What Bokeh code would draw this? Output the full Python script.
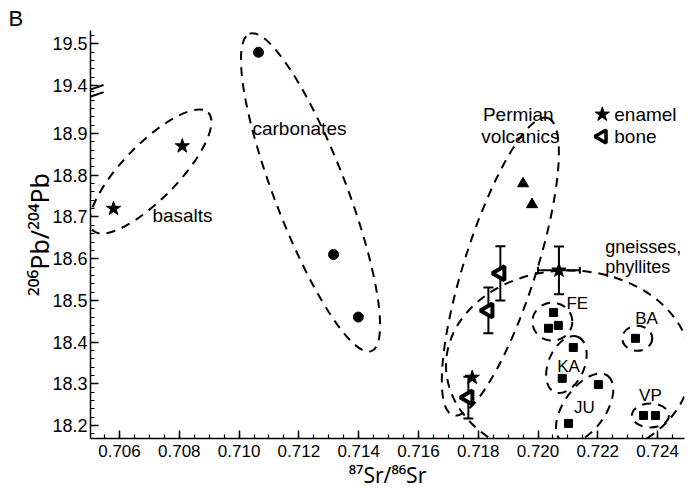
import numpy as np
from bokeh.plotting import figure
from bokeh.models import (ColumnDataSource, FixedTicker, CustomJSTickFormatter,
                          PrintfTickFormatter, Whisker, TeeHead, Label, Arrow, Range1d)
from bokeh.embed import file_html
from bokeh.resources import INLINE

# ---------------- data ----------------
OFF = 0.385      # y values above the axis break are drawn shifted down by OFF
BRK = 19.0

basalt_x = [0.7058, 0.7081]
basalt_y = [18.72, 18.87]
carb_x = [0.71065, 0.71316, 0.71399]
carb_y = [19.48, 18.61, 18.46]
perm_x = [0.7195, 0.7198]
perm_y = [18.78, 18.73]
bone_x = [0.71874, 0.71834, 0.71767]
bone_y = [18.565, 18.476, 18.267]
bone_yerr = [0.065, 0.055, 0.05]
enamel_x = [0.7178, 0.7207]
enamel_y = [18.315, 18.572]
enamel_xerr_x = [0.7207]
enamel_xerr_y = [18.572]
enamel_xerr = [0.0007]
enamel_yerr = [0.057]
gneiss_x = [0.72052, 0.72035, 0.72068, 0.72118, 0.72081, 0.72202, 0.72102,
            0.72326, 0.72353, 0.72393]
gneiss_y = [18.471, 18.433, 18.44, 18.387, 18.313, 18.298, 18.205,
            18.409, 18.224, 18.224]

x_ticks = [0.706, 0.708, 0.710, 0.712, 0.714, 0.716, 0.718, 0.720, 0.722, 0.724]
y_ticks_low = [18.2, 18.3, 18.4, 18.5, 18.6, 18.7, 18.8, 18.9]
y_ticks_high = [19.4, 19.5]

def disp(v):
    return [a - OFF if a > BRK else a for a in v]

FONT = "Liberation Sans, Arial, DejaVu Sans"
LFONT = "Noto Sans, DejaVu Sans"
X0, X1 = 0.70503, 0.72490

p = figure(width=689, height=491, output_backend="svg", toolbar_location=None,
           x_range=Range1d(X0, X1), y_range=Range1d(18.1688, 19.1472),
           min_border_left=90, min_border_right=5, min_border_top=30, min_border_bottom=53)
p.grid.visible = False
p.outline_line_color = None
p.background_fill_color = "white"
p.border_fill_color = "white"

p.title.text = "B"
p.title.align = "left"
p.title.offset = -82
p.title.standoff = 0
p.title.text_font = FONT
p.title.text_font_size = "22px"
p.title.text_font_style = "normal"
p.title.text_color = "black"

# axes
xminor = list(np.round(np.arange(0.7050, X1, 0.0005), 4))
p.xaxis.ticker = FixedTicker(ticks=x_ticks, minor_ticks=xminor)
p.xaxis.formatter = PrintfTickFormatter(format="%.3f")
yminor = list(np.round(np.arange(18.18, 19.001, 0.02), 2)) + \
         [round(v - OFF, 3) for v in np.round(np.arange(19.40, 19.55, 0.02), 2)]
p.yaxis.ticker = FixedTicker(ticks=y_ticks_low + disp(y_ticks_high), minor_ticks=yminor)
p.yaxis.formatter = CustomJSTickFormatter(args=dict(off=OFF, brk=BRK),
    code="const v = tick > brk + 0.005 ? tick + off : tick; return v.toFixed(1);")
for ax in (p.xaxis[0], p.yaxis[0]):
    ax.major_tick_in = 8
    ax.major_tick_out = 0
    ax.minor_tick_in = 4
    ax.minor_tick_out = 0
    ax.axis_line_width = 1.5
    ax.major_tick_line_width = 1.5
    ax.minor_tick_line_width = 1.2
    ax.major_label_text_font = FONT
    ax.major_label_text_color = "black"
    ax.axis_label_text_font = LFONT
    ax.axis_label_text_font_style = "normal"
    ax.axis_label_text_color = "black"
p.yaxis.major_label_text_font_size = "18px"
p.xaxis.major_label_text_font_size = "17px"
p.yaxis.axis_label_text_font_size = "25px"
p.xaxis.axis_label_text_font_size = "21px"
p.yaxis.major_label_standoff = 3
p.yaxis.axis_label_standoff = -7
p.xaxis.major_label_standoff = 6
p.xaxis.axis_label_standoff = 1
p.xaxis.axis_label = "⁸⁷Sr/⁸⁶Sr"
p.yaxis.axis_label = "²⁰⁶Pb/²⁰⁴Pb"

# ---------------- group envelopes (dashed) ----------------
env_x = [0.70704, 0.71239, 0.71874, 0.72102, 0.72048, 0.72095, 0.72156, 0.72332, 0.72376]
env_y = [18.809, 18.759, 18.581, 18.344, 18.449, 18.346, 18.241, 18.409, 18.224]
env_w = [165, 340, 312, 245, 40, 60, 80, 30, 37]
env_h = [55, 72, 72, 190, 38, 36, 42, 25, 24]
env_a = [45.7, 111, 72.3, 0, 0, 67, 55, 0, 0]
p.ellipse(x=env_x, y=env_y, width=env_w, height=env_h, angle=env_a,
          angle_units="deg", width_units="screen", height_units="screen",
          fill_alpha=0, line_color="black", line_width=2, line_dash="9 7")

# ---------------- error bars ----------------
def vbars(xs, ys, es, head=10):
    src = ColumnDataSource(dict(x=xs, lo=[y - e for y, e in zip(ys, es)],
                                hi=[y + e for y, e in zip(ys, es)]))
    p.add_layout(Whisker(source=src, base="x", lower="lo", upper="hi", dimension="height",
                         line_width=2, upper_head=TeeHead(size=head, line_width=2),
                         lower_head=TeeHead(size=head, line_width=2)))

vbars(bone_x, bone_y, bone_yerr)
vbars(enamel_xerr_x, enamel_xerr_y, enamel_yerr)
src_ex = ColumnDataSource(dict(y=enamel_xerr_y,
                               lo=[x - e for x, e in zip(enamel_xerr_x, enamel_xerr)],
                               hi=[x + e for x, e in zip(enamel_xerr_x, enamel_xerr)]))
p.add_layout(Whisker(source=src_ex, base="y", lower="lo", upper="hi", dimension="width",
                     line_width=2, upper_head=TeeHead(size=7, line_width=2),
                     lower_head=TeeHead(size=7, line_width=2)))

# ---------------- markers ----------------
p.scatter(basalt_x, disp(basalt_y), marker="star", size=15, color="black")
p.scatter(carb_x, disp(carb_y), marker="circle", size=10, color="black")
p.scatter(perm_x, disp(perm_y), marker="triangle", size=11, color="black")
p.scatter(bone_x, disp(bone_y), marker="triangle", angle=np.pi / 2, size=14,
          fill_color="white", line_color="black", line_width=4)
p.scatter(enamel_x, disp(enamel_y), marker="star", size=15, color="black")
p.scatter(gneiss_x, disp(gneiss_y), marker="square", size=8, color="black")

# legend symbols
LEG_Y1, LEG_Y2 = 18.946, 18.893
p.scatter([0.72215], [LEG_Y1], marker="star", size=15, color="black")
p.scatter([0.72215], [LEG_Y2], marker="triangle", angle=np.pi / 2, size=13,
          fill_color="white", line_color="black", line_width=3.5)

# ---------------- texts ----------------
def lab(x, y, t, align="left", size="19px"):
    p.add_layout(Label(x=x, y=y, text=t, text_align=align, text_baseline="middle",
                       text_font=FONT, text_font_size=size, text_color="black"))

lab(0.7071, 18.704, "basalts")
lab(0.71202, 18.912, "carbonates", "center")
lab(0.71934, LEG_Y1, "Permian", "center")
lab(0.71941, LEG_Y2, "volcanics", "center")
lab(0.72255, LEG_Y1, "enamel")
lab(0.72255, LEG_Y2, "bone")
lab(0.72225, 18.627, "gneisses,", size="18px")
lab(0.72225, 18.579, "phyllites", size="18px")
lab(0.72095, 18.4926, "FE", size="17px")
lab(0.72363, 18.4566, "BA", "center", size="17px")
lab(0.72102, 18.3415, "KA", "center", size="17px")
lab(0.72155, 18.243, "JU", "center", size="17px")
lab(0.72376, 18.272, "VP", "center", size="17px")

# axis break marks
dxl = 7 / 29900
dxr = 13 / 29900
dy = 3.5 / 417
for yb in (19.008, 18.991):
    p.add_layout(Arrow(end=None, x_start=X0 - dxl, y_start=yb - dy,
                       x_end=X0 + dxr, y_end=yb + dy, line_width=2, line_color="black"))

open("out.html", "w").write(file_html(p, INLINE))
